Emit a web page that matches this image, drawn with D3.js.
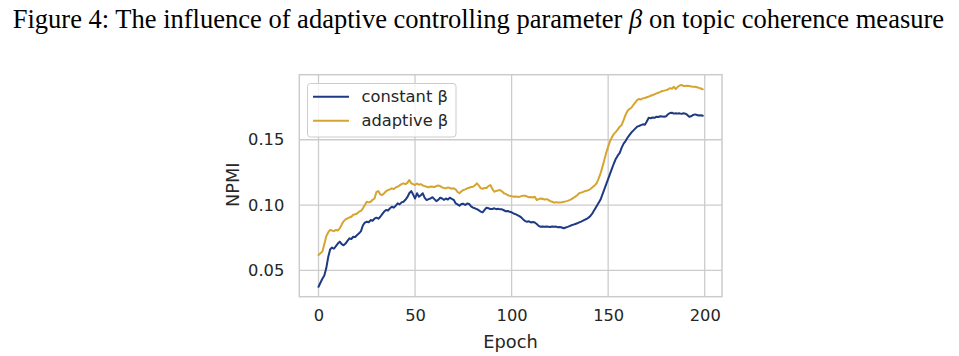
<!DOCTYPE html>
<html><head><meta charset="utf-8">
<script src="https://cdn.jsdelivr.net/npm/d3@7"></script>
<style>body{margin:0;background:#fff;} svg{display:block;}</style>
</head><body>
<svg id="chart" width="959" height="356"></svg>
<script>
const epochs = d3.range(0, 200);
const constantBeta = [
0.0374,0.0405,0.0435,0.0460,0.0515,0.0600,0.0660,0.0675,0.0665,0.0685,
0.0705,0.0720,0.0700,0.0692,0.0705,0.0725,0.0745,0.0740,0.0757,0.0755,
0.0770,0.0783,0.0800,0.0845,0.0865,0.0872,0.0868,0.0885,0.0880,0.0895,
0.0903,0.0895,0.0910,0.0930,0.0950,0.0962,0.0958,0.0975,0.0987,0.0980,
0.0995,0.1013,0.1005,0.1020,0.1025,0.1040,0.1060,0.1090,0.1107,0.1080,
0.1050,0.1090,0.1064,0.1075,0.1090,0.1055,0.1038,0.1045,0.1050,0.1060,
0.1045,0.1030,0.1040,0.1056,0.1050,0.1040,0.1050,0.1042,0.1056,0.1048,
0.1040,0.1013,0.1005,0.0995,0.1008,0.1010,0.1000,0.1012,0.1008,0.0990,
0.0980,0.0975,0.0968,0.0960,0.0950,0.0944,0.0962,0.0980,0.0975,0.0970,
0.0970,0.0975,0.0968,0.0972,0.0967,0.0967,0.0960,0.0952,0.0955,0.0948,
0.0944,0.0935,0.0930,0.0923,0.0915,0.0905,0.0890,0.0877,0.0872,0.0875,
0.0867,0.0870,0.0866,0.0855,0.0840,0.0834,0.0836,0.0833,0.0835,0.0834,
0.0832,0.0836,0.0833,0.0835,0.0830,0.0832,0.0828,0.0822,0.0828,0.0833,
0.0839,0.0845,0.0850,0.0855,0.0860,0.0867,0.0873,0.0880,0.0888,0.0895,
0.0905,0.0920,0.0940,0.0965,0.0990,0.1015,0.1040,0.1080,0.1120,0.1160,
0.1200,0.1240,0.1280,0.1320,0.1355,0.1380,0.1400,0.1440,0.1470,0.1490,
0.1515,0.1535,0.1555,0.1570,0.1585,0.1600,0.1605,0.1612,0.1618,0.1615,
0.1640,0.1668,0.1665,0.1670,0.1668,0.1676,0.1674,0.1680,0.1678,0.1676,
0.1680,0.1695,0.1705,0.1707,0.1700,0.1703,0.1700,0.1702,0.1698,0.1703,
0.1700,0.1690,0.1676,0.1680,0.1690,0.1694,0.1690,0.1686,0.1688,0.1684];
const adaptiveBeta = [
0.0617,0.0630,0.0645,0.0700,0.0760,0.0790,0.0809,0.0805,0.0800,0.0809,
0.0805,0.0821,0.0850,0.0875,0.0890,0.0898,0.0905,0.0910,0.0925,0.0929,
0.0935,0.0949,0.0955,0.0975,0.1000,0.1025,0.1020,0.1025,0.1040,0.1050,
0.1100,0.1107,0.1080,0.1077,0.1090,0.1105,0.1115,0.1120,0.1128,0.1122,
0.1135,0.1140,0.1150,0.1160,0.1166,0.1160,0.1170,0.1191,0.1166,0.1160,
0.1153,0.1165,0.1155,0.1160,0.1150,0.1145,0.1140,0.1135,0.1142,0.1140,
0.1138,0.1145,0.1150,0.1145,0.1135,0.1130,0.1128,0.1135,0.1130,0.1125,
0.1128,0.1120,0.1100,0.1090,0.1105,0.1115,0.1120,0.1128,0.1132,0.1138,
0.1140,0.1150,0.1166,0.1150,0.1128,0.1125,0.1130,0.1130,0.1145,0.1153,
0.1125,0.1102,0.1108,0.1112,0.1115,0.1105,0.1090,0.1085,0.1075,0.1071,
0.1068,0.1064,0.1066,0.1064,0.1062,0.1068,0.1072,0.1071,0.1065,0.1059,
0.1062,0.1058,0.1064,0.1038,0.1045,0.1050,0.1048,0.1042,0.1045,0.1040,
0.1030,0.1025,0.1018,0.1022,0.1020,0.1020,0.1022,0.1025,0.1028,0.1032,
0.1038,0.1045,0.1055,0.1064,0.1075,0.1090,0.1095,0.1100,0.1107,0.1110,
0.1115,0.1125,0.1138,0.1150,0.1166,0.1200,0.1240,0.1290,0.1345,0.1400,
0.1447,0.1490,0.1520,0.1545,0.1560,0.1580,0.1600,0.1613,0.1650,0.1690,
0.1720,0.1735,0.1745,0.1766,0.1785,0.1804,0.1812,0.1808,0.1818,0.1820,
0.1825,0.1830,0.1837,0.1842,0.1848,0.1855,0.1860,0.1866,0.1873,0.1876,
0.1880,0.1885,0.1895,0.1890,0.1906,0.1888,0.1905,0.1915,0.1919,0.1912,
0.1911,0.1914,0.1911,0.1908,0.1906,0.1906,0.1902,0.1897,0.1892,0.1886];
const xTicks = [0, 50, 100, 150, 200];
const yTicks = [0.05, 0.10, 0.15];
const seriesNames = ["constant β", "adaptive β"];
const seriesColors = ["#1f3a84", "#d6a430"];

const svg = d3.select("#chart");
const L = 299.3, R = 722, T = 74.7, B = 296.7;
const x = d3.scaleLinear().domain([-9.95, 208.95]).range([L, R]);
const y = d3.scaleLinear().domain([0.0298, 0.1998]).range([B, T]);

// title (natural tspan flow, horizontally condensed as a whole)
const title = svg.append("text").attr("x", 0).attr("y", 0)
  .style("font-family", "'Liberation Serif','Times New Roman',serif")
  .style("font-size", "27.5px").style("fill", "#000");
title.append("tspan").text("Figure 4: The influence of adaptive controlling parameter ");
title.append("tspan").style("font-style", "italic").text("β");
title.append("tspan").text(" on topic coherence measure");
const tw = title.node().getComputedTextLength();
title.attr("transform", `translate(12.7,28.3) scale(${932 / tw},1)`);

// grid
const g = svg.append("g");
g.selectAll(".vg").data(xTicks).join("line")
  .attr("x1", d => x(d)).attr("x2", d => x(d)).attr("y1", T).attr("y2", B)
  .attr("stroke", "#cccccc").attr("stroke-width", 1.3);
g.selectAll(".hg").data(yTicks).join("line")
  .attr("y1", d => y(d)).attr("y2", d => y(d)).attr("x1", L).attr("x2", R)
  .attr("stroke", "#cccccc").attr("stroke-width", 1.3);

// lines
const line = d3.line().x((d, i) => x(epochs[i])).y(d => y(d));
[constantBeta, adaptiveBeta].forEach((s, k) => {
  svg.append("path").datum(s).attr("d", line).attr("fill", "none")
    .attr("stroke", seriesColors[k]).attr("stroke-width", 2)
    .attr("stroke-linejoin", "round").attr("stroke-linecap", "round");
});

// frame
svg.append("rect").attr("x", L).attr("y", T).attr("width", R - L).attr("height", B - T)
  .attr("fill", "none").attr("stroke", "#cccccc").attr("stroke-width", 1.5);

// axes
const font = "'DejaVu Sans', sans-serif";
const xa = svg.append("g").attr("transform", `translate(0,${B})`)
  .call(d3.axisBottom(x).tickValues(xTicks).tickSize(0).tickPadding(13).tickFormat(d3.format("d")));
const ya = svg.append("g").attr("transform", `translate(${L},0)`)
  .call(d3.axisLeft(y).tickValues(yTicks).tickSize(0).tickPadding(15).tickFormat(d3.format(".2f")));
[xa, ya].forEach(a => {
  a.select(".domain").remove();
  a.selectAll("text").style("font-family", font).style("font-size", "16.3px").style("fill", "#262626");
});

svg.append("text").attr("x", 510.5).attr("y", 348).attr("text-anchor", "middle")
  .style("font-family", font).style("font-size", "17.8px").style("fill", "#262626").text("Epoch");
svg.append("text").attr("transform", `translate(239,${(T + B) / 2 - 1}) rotate(-90)`)
  .attr("text-anchor", "middle")
  .style("font-family", font).style("font-size", "17.8px").style("fill", "#262626").text("NPMI");

// legend
const lg = svg.append("g");
lg.append("rect").attr("x", 307.5).attr("y", 83.5).attr("width", 148.5).attr("height", 53.5)
  .attr("rx", 3).attr("fill", "rgba(255,255,255,0.8)").attr("stroke", "#cccccc").attr("stroke-width", 1);
seriesNames.forEach((n, k) => {
  const yy = 96.7 + k * 24;
  lg.append("line").attr("x1", 313).attr("x2", 349).attr("y1", yy).attr("y2", yy)
    .attr("stroke", seriesColors[k]).attr("stroke-width", 2);
  lg.append("text").attr("x", 361.5).attr("y", yy).attr("dy", "0.35em")
    .style("font-family", font).style("font-size", "16.3px").style("fill", "#262626").text(n);
});
</script>
</body></html>
